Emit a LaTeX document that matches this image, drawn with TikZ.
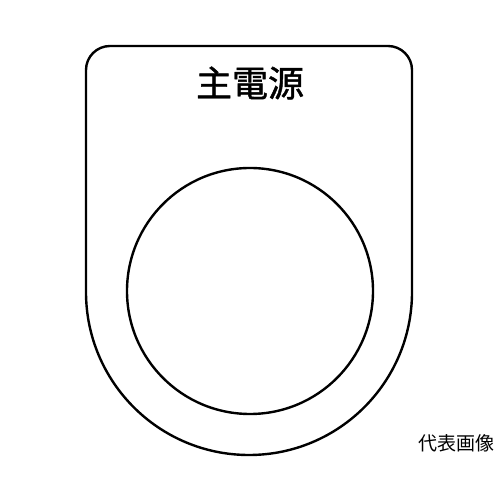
\documentclass[tikz,border=0pt]{standalone}
\usepackage{fontspec}
\newfontfamily\cjk{Noto Sans CJK JP}
\newfontfamily\cjkbold[FakeBold=1.2]{Noto Sans CJK JP}
\tikzset{
  plate/.style={line width=2.4pt, black},
  caption/.style={font=\cjk\fontsize{19}{19}\selectfont, inner sep=0pt}
}

\begin{document}
\begin{tikzpicture}
  [x=1pt, y=1pt]
  \useasboundingbox (0,0) rectangle (500,500);
  \draw[plate] (86,208) -- (86,430) arc[start angle=180, end angle=90, radius=24]
    -- (388,454) arc[start angle=90, end angle=0, radius=24]
    -- (412,208) arc[start angle=0, end angle=-180, radius=163] -- cycle;
  \node[plate, draw, circle, minimum size=246pt, inner sep=0pt] (hole) at (250, 209) {};
  \node[font=\cjkbold\fontsize{36}{36}\selectfont, inner sep=0pt] (title) at (250, 417) {主電源};
  \node[caption] (note) at (456, 57) {代表画像};
\end{tikzpicture}
\end{document}
